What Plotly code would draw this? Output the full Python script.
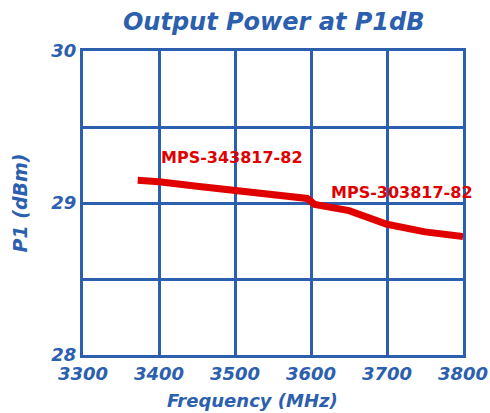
import plotly.graph_objects as go

freq = [3372, 3400, 3450, 3500, 3550, 3595, 3605, 3650, 3700, 3750, 3800]
p1 = [29.15, 29.14, 29.11, 29.08, 29.06, 29.03, 28.99, 28.95, 28.86, 28.81, 28.78]

x_ticks = [3300, 3400, 3500, 3600, 3700, 3800]
y_ticks = [28, 28.5, 29, 29.5, 30]
y_ticktext = ["28", "", "29", "", "30"]

labels = ["MPS-343817-82", "MPS-303817-82"]
label_x = [3496, 3720]
label_y = [29.30, 29.07]

BLUE = "#2c5fae"
RED = "#e00000"
FONT = "DejaVu Sans"

fig = go.Figure()
fig.add_trace(go.Scatter(x=freq, y=p1, mode="lines",
                         line=dict(color=RED, width=7), showlegend=False))

for t, lx, ly in zip(labels, label_x, label_y):
    fig.add_annotation(x=lx, y=ly, text="<b>" + t + "</b>", showarrow=False,
                       font=dict(family=FONT, size=16, color=RED))

fig.add_annotation(xref="paper", yref="paper", x=0.445, y=-0.151,
                   xanchor="center", yanchor="middle", showarrow=False,
                   text="<b><i>Frequency (MHz)</i></b>",
                   font=dict(family=FONT, size=18, color=BLUE))

fig.update_layout(
    width=490, height=413,
    margin=dict(l=83, r=27, t=51, b=58),
    paper_bgcolor="white", plot_bgcolor="white",
    title=dict(text="<b><i>Output Power at P1dB</i></b>", xref="paper",
               x=0.502, xanchor="center",
               y=0.947, yanchor="middle",
               font=dict(family=FONT, size=24, color=BLUE)),
    xaxis=dict(range=[3300, 3800], tickvals=x_ticks, automargin=False,
               ticktext=["<b><i>%d</i></b>" % v for v in x_ticks],
               showgrid=True, gridcolor=BLUE, gridwidth=3,
               showline=True, linecolor=BLUE, linewidth=3, mirror=True,
               zeroline=False, ticks="", ticklen=0,
               tickfont=dict(family=FONT, size=18, color=BLUE)),
    yaxis=dict(range=[28, 30], tickvals=y_ticks, automargin=False,
               ticktext=["<b><i>%s</i></b>" % s if s else "" for s in y_ticktext],
               showgrid=True, gridcolor=BLUE, gridwidth=3,
               showline=True, linecolor=BLUE, linewidth=3, mirror=True,
               zeroline=False, ticks="", ticklen=0,
               tickfont=dict(family=FONT, size=18, color=BLUE),
               title=dict(text="<b><i>P1 (dBm)</i></b>", standoff=19,
                          font=dict(family=FONT, size=19, color=BLUE))),
)

fig.write_html("out.html",
               config={"displayModeBar": False},
               post_script="document.body.style.margin='0';"
                           "document.body.style.overflow='hidden';")
